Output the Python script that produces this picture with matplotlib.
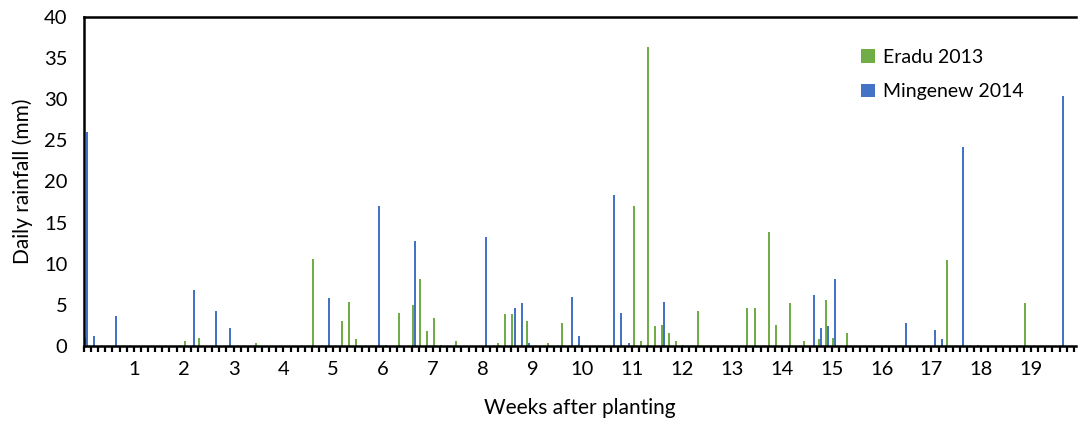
import matplotlib
matplotlib.use("Agg")
import matplotlib.pyplot as plt
from matplotlib.ticker import FixedLocator, NullFormatter

plt.rcParams['font.family'] = ['Lato', 'DejaVu Sans']

# daily rainfall, day index after planting (0 = planting day) and mm
eradu_days = [0, 14, 16, 24, 32, 36, 37, 38, 44, 46, 47, 48, 49, 50, 52, 58, 59, 60,
              62, 65, 67, 77, 78, 79, 80, 81, 82, 83, 84, 86, 93, 94, 96, 97, 99,
              101, 103, 104, 105, 107, 121, 132]
eradu_mm = [1.0, 0.65, 1.0, 0.4, 10.6, 3.0, 5.4, 0.85, 4.0, 5.0, 8.2, 1.8, 3.4, 0.1,
            0.6, 0.4, 3.9, 3.9, 3.0, 0.35, 2.8, 17.0, 0.6, 36.4, 2.4, 2.6, 1.6, 0.6,
            0.1, 4.2, 4.6, 4.6, 13.8, 2.6, 5.2, 0.6, 0.85, 5.6, 1.0, 1.6, 10.4, 5.2]

mingenew_days = [0, 1, 4, 15, 18, 20, 34, 41, 42, 46, 56, 60, 61, 62, 68, 69, 74, 75,
                 76, 81, 102, 103, 104, 105, 115, 119, 120, 123, 125, 137]
mingenew_mm = [26.0, 1.2, 3.6, 6.8, 4.2, 2.2, 5.8, 17.0, 0.1, 12.8, 13.2, 4.6, 5.2,
               0.4, 6.0, 1.2, 18.4, 4.0, 0.4, 5.4, 6.2, 2.2, 2.4, 8.2, 2.8, 2.0, 0.85,
               24.2, 0.1, 30.4]

n_days = 139
weeks = list(range(1, 20))
week_labels = [str(w) for w in weeks]

fig = plt.figure(figsize=(10.78, 4.21), dpi=100)
ax = fig.add_axes([84 / 1078, 1 - 346 / 421, 992 / 1078, 329 / 421])

ax.bar([d + 0.17 for d in eradu_days], eradu_mm, width=0.28, color='#70AD47',
       linewidth=0, label='Eradu 2013', zorder=2)
ax.bar([d + 0.47 for d in mingenew_days], mingenew_mm, width=0.28, color='#4472C4',
       linewidth=0, label='Mingenew 2014', zorder=2)

ax.set_xlim(0, n_days + 0.3)
ax.set_ylim(0, 40)

ax.set_xticks([7 * w for w in weeks])
ax.set_xticklabels(week_labels)
ax.xaxis.set_minor_locator(FixedLocator(range(0, n_days + 1)))
ax.xaxis.set_minor_formatter(NullFormatter())
ax.tick_params(axis='x', which='both', direction='out', length=4, width=1.6,
               color='black', labelsize=14.5, pad=7)
ax.set_yticks(range(0, 41, 5))
ax.tick_params(axis='y', length=0, labelsize=14.5, pad=12)

for s in ['left', 'top', 'bottom']:
    ax.spines[s].set_linewidth(1.8)
    ax.spines[s].set_color('black')
ax.spines['right'].set_visible(False)

ax.set_xlabel('Weeks after planting', fontsize=15, labelpad=14)
ax.set_ylabel('Daily rainfall (mm)', fontsize=15, labelpad=8)

ax.legend(loc='upper left', bbox_to_anchor=(0.766, 0.957), frameon=False,
          fontsize=14, handlelength=0.7, handleheight=0.7, handletextpad=0.4,
          labelspacing=0.9)

fig.savefig('out.png', dpi=100)
